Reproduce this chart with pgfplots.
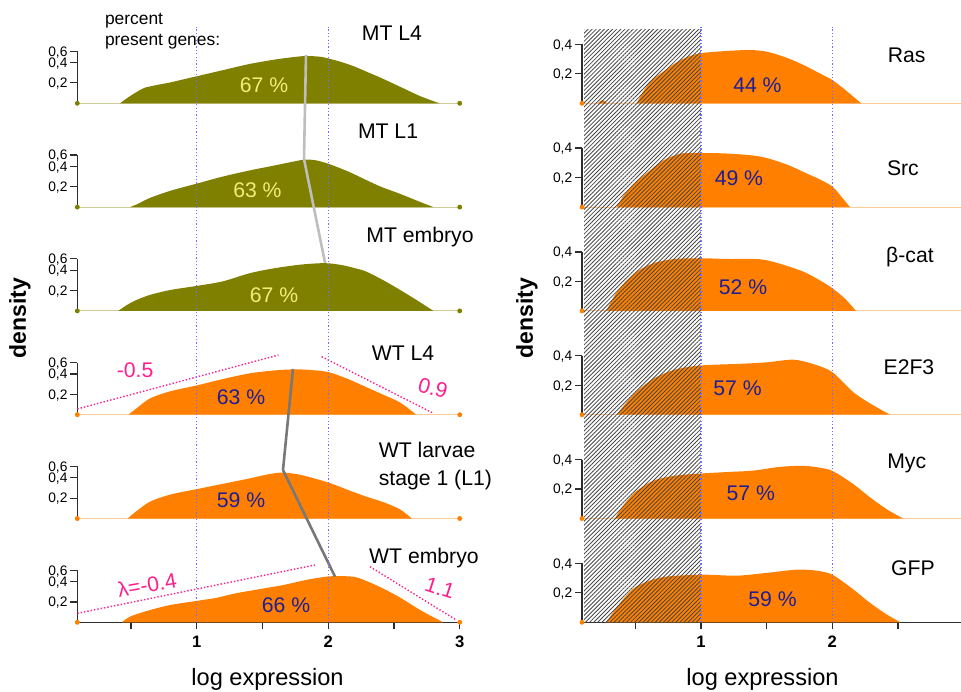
\documentclass[border=0pt]{standalone}
\usepackage{fontspec}
\setmainfont{Liberation Sans}
\usepackage{pgfplots}
\pgfplotsset{compat=1.18}
\usetikzlibrary{patterns.meta}

\definecolor{mtolive}{RGB}{127,127,0}
\definecolor{wtorange}{RGB}{255,128,0}
\definecolor{pctyellow}{RGB}{242,236,120}
\definecolor{pctblue}{RGB}{30,30,150}
\definecolor{slopepink}{RGB}{255,30,140}
\definecolor{refblue}{RGB}{110,110,255}
\definecolor{mtgray}{RGB}{190,190,190}
\definecolor{wtgray}{RGB}{120,120,120}
\definecolor{axisgray}{RGB}{45,45,45}

\pgfplotsset{
  panel/.style={
    clip=false, anchor=south west, ymin=0,
    axis x line*=bottom, axis y line*=left,
    axis line style={-, line width=0.6pt, draw=axisgray},
    tick align=outside, major tick length=3.5pt,
    tick style={draw=axisgray, line width=0.6pt},
    yticklabel style={font=\fontsize{6.9}{7}\selectfont, inner sep=0pt,
      text depth=0pt, xshift=-1.2pt},
    xticklabel style={font=\fontsize{8.3}{9}\selectfont\bfseries},
    xtick=\empty,
  },
  lpanel/.style={panel, x=65.75pt, y=51pt, xmin=0.092, xmax=3, ymax=0.51,
    ytick={0.2,0.4,0.51},
    yticklabels={{\mbox{0,2}},{\mbox{0,4}},{\mbox{0,6}}}},
  rpanel/.style={panel, x=65.65pt, y=73.75pt, xmin=0.094, xmax=2.98, ymax=0.4,
    ytick={0.2,0.4},
    yticklabels={{\mbox{0,2}},{\mbox{0,4}}}},
  baseline/.style={x axis line style={draw=#1, line width=0.5pt}},
  lbottom/.style={xtick={0.5,1,1.5,2,2.5,3}, xticklabels={,1,,2,,3}},
  rbottom/.style={xtick={0.5,1,1.5,2,2.5}, xticklabels={,1,,2,}},
  dens/.style={fill=#1, draw=none, smooth},
  ends/.style={only marks, mark=*, mark size=1pt, color=#1},
}
\newcommand{\ttl}{\fontsize{10.6}{12}\selectfont}
\newcommand{\pct}{\fontsize{10.6}{12}\selectfont}

\begin{document}
\begin{tikzpicture}
% ---------------- left column: MT and WT stages ----------------
\begin{axis}[lpanel, baseline=mtolive!40, at={(38.65pt,293.85pt)}]
  \addplot[dens=mtolive] coordinates {(0.417,0) (0.47,0.05) (0.53,0.10) (0.6,0.15) (0.68,0.175) (0.8,0.205) (0.9,0.235) (1.0,0.265) (1.2,0.325) (1.4,0.385) (1.6,0.43) (1.75,0.455) (1.84,0.464) (1.95,0.455) (2.0,0.44) (2.1,0.405) (2.2,0.36) (2.3,0.305) (2.4,0.25) (2.55,0.16) (2.7,0.07) (2.845,0)} \closedcycle;
  \addplot[ends=mtolive] coordinates {(0.092,0) (3,0)};
  \node[font=\pct, text=pctyellow] at (axis cs:1.512,0.179) {67 \%};
  \node[font=\ttl] at (axis cs:2.485,0.689) {MT L4};
  \node[font=\fontsize{8.7}{10.8}\selectfont, align=left, anchor=west] at (axis cs:0.249,0.709) {percent\\present genes:};
\end{axis}

\begin{axis}[lpanel, baseline=mtolive!40, at={(38.65pt,241.95pt)}]
  \addplot[dens=mtolive] coordinates {(0.493,0) (0.55,0.03) (0.645,0.09) (0.8,0.16) (1.0,0.23) (1.2,0.3) (1.405,0.36) (1.6,0.41) (1.75,0.45) (1.82,0.465) (1.9,0.46) (2.0,0.425) (2.15,0.35) (2.29,0.265) (2.4,0.2) (2.546,0.13) (2.7,0.05) (2.8,0)} \closedcycle;
  \addplot[ends=mtolive] coordinates {(0.092,0) (3,0)};
  \addplot[mtgray, line width=1.3pt] coordinates {(1.831,1.491) (1.816,0.472)};
  \node[font=\pct, text=pctyellow] at (axis cs:1.462,0.168) {63 \%};
  \node[font=\ttl] at (axis cs:2.455,0.746) {MT L1};
\end{axis}

\begin{axis}[lpanel, baseline=mtolive!40, at={(38.65pt,190.05pt)}]
  \addplot[dens=mtolive] coordinates {(0.404,0) (0.46,0.05) (0.53,0.1) (0.645,0.157) (0.8,0.205) (1.0,0.245) (1.2,0.29) (1.405,0.37) (1.6,0.42) (1.8,0.455) (1.976,0.468) (2.1,0.45) (2.2,0.42) (2.29,0.385) (2.42,0.3) (2.546,0.206) (2.68,0.1) (2.8,0)} \closedcycle;
  \addplot[ends=mtolive] coordinates {(0.092,0) (3,0)};
  \addplot[mtgray, line width=1.3pt] coordinates {(1.816,1.489) (1.976,0.47)};
  \node[font=\pct, text=pctyellow] at (axis cs:1.588,0.156) {67 \%};
  \node[font=\ttl] at (axis cs:2.698,0.727) {MT embryo};
\end{axis}

\begin{axis}[lpanel, baseline=wtorange!40, at={(38.65pt,138.15pt)}]
  \addplot[dens=wtorange] coordinates {(0.48,0) (0.54,0.06) (0.645,0.16) (0.8,0.23) (1.0,0.287) (1.2,0.35) (1.405,0.406) (1.6,0.435) (1.735,0.444) (1.85,0.44) (2.0,0.418) (2.15,0.35) (2.29,0.27) (2.42,0.195) (2.546,0.12) (2.67,0)} \closedcycle;
  \addplot[ends=wtorange] coordinates {(0.092,0) (3,0)};
  \addplot[slopepink, densely dotted, line width=0.7pt] coordinates {(0.092,0.056) (1.622,0.585)};
  \addplot[slopepink, densely dotted, line width=0.7pt] coordinates {(1.95,0.569) (2.80,0.014)};
  \node[font=\pct, text=slopepink] at (axis cs:0.531,0.438) {-0.5};
  \node[font=\pct, text=slopepink, rotate=-15] at (axis cs:2.797,0.262) {0.9};
  \node[font=\pct, text=pctblue] at (axis cs:1.337,0.176) {63 \%};
  \node[font=\ttl] at (axis cs:2.569,0.605) {WT L4};
\end{axis}

\begin{axis}[lpanel, baseline=wtorange!40, at={(38.65pt,86.25pt)}]
  \addplot[dens=wtorange] coordinates {(0.475,0) (0.54,0.07) (0.645,0.165) (0.8,0.235) (1.0,0.288) (1.2,0.34) (1.405,0.394) (1.55,0.435) (1.66,0.45) (1.8,0.425) (2.0,0.353) (2.15,0.28) (2.29,0.214) (2.42,0.16) (2.546,0.09) (2.635,0)} \closedcycle;
  \addplot[ends=wtorange] coordinates {(0.092,0) (3,0)};
  \addplot[wtgray, line width=1.3pt] coordinates {(1.732,1.466) (1.656,0.475)};
  \node[font=\pct, text=pctblue] at (axis cs:1.337,0.181) {59 \%};
  \node[font=\fontsize{10.6}{14}\selectfont, align=left, anchor=west] at (axis cs:2.331,0.515) {WT larvae\\stage 1 (L1)};
\end{axis}

\begin{axis}[lpanel, lbottom, at={(38.65pt,34.35pt)}]
  \addplot[dens=wtorange] coordinates {(0.43,0) (0.5,0.06) (0.645,0.12) (0.8,0.17) (1.0,0.21) (1.15,0.24) (1.3,0.285) (1.5,0.33) (1.66,0.366) (1.85,0.42) (2.0,0.45) (2.065,0.454) (2.2,0.445) (2.3,0.4) (2.42,0.33) (2.55,0.24) (2.7,0.12) (2.8,0.05) (2.875,0)} \closedcycle;
  \addplot[ends=wtorange] coordinates {(0.092,0) (3,0)};
  \addplot[wtgray, line width=1.3pt] coordinates {(1.656,1.493) (2.052,0.447)};
  \addplot[slopepink, densely dotted, line width=0.7pt] coordinates {(0.092,0.088) (1.90,0.562)};
  \addplot[slopepink, densely dotted, line width=0.7pt] coordinates {(2.318,0.545) (2.977,0.02)};
  \node[font=\pct, text=slopepink, rotate=10] at (axis cs:0.622,0.366) {λ=-0.4};
  \node[font=\pct, text=slopepink, rotate=-18] at (axis cs:2.85,0.336) {1.1};
  \node[font=\pct, text=pctblue] at (axis cs:1.679,0.17) {66 \%};
  \node[font=\ttl] at (axis cs:2.728,0.63) {WT embryo};
  % reference lines at log expression 1 and 2
  \draw[refblue, line width=0.6pt, dash pattern=on 0.6pt off 1.1pt] (axis cs:1,0) -- (axis cs:1,5.836);
  \draw[refblue, line width=0.6pt, dash pattern=on 0.6pt off 1.1pt] (axis cs:2,0) -- (axis cs:2,5.836);
\end{axis}

% ---------------- right column: oncogene lines ----------------
\begin{axis}[rpanel, baseline=wtorange!40, at={(291pt,293.85pt)}]
  \addplot[dens=wtorange] coordinates {(0.51,0) (0.56,0.08) (0.62,0.15) (0.69,0.2) (0.8,0.27) (0.9,0.315) (1.0,0.34) (1.2,0.355) (1.373,0.361) (1.5,0.35) (1.65,0.31) (1.78,0.26) (1.9,0.205) (2.0,0.158) (2.1,0.09) (2.22,0)} \closedcycle;
  \addplot[dens=wtorange] coordinates {(0.215,0) (0.25,0.022) (0.285,0)} \closedcycle;
  \addplot[ends=wtorange] coordinates {(0.094,0)};
  \node[font=\pct, text=pctblue] at (axis cs:1.43,0.124) {44 \%};
  \node[font=\ttl] at (axis cs:2.567,0.327) {Ras};
\end{axis}

\begin{axis}[rpanel, baseline=wtorange!40, at={(291pt,241.95pt)}]
  \addplot[dens=wtorange] coordinates {(0.357,0) (0.42,0.09) (0.5,0.17) (0.586,0.23) (0.7,0.31) (0.84,0.362) (1.0,0.366) (1.2,0.363) (1.45,0.343) (1.65,0.29) (1.8,0.23) (1.9,0.19) (2.0,0.14) (2.07,0.07) (2.135,0)} \closedcycle;
  \addplot[ends=wtorange] coordinates {(0.094,0)};
  \node[font=\pct, text=pctblue] at (axis cs:1.289,0.197) {49 \%};
  \node[font=\ttl] at (axis cs:2.538,0.265) {Src};
\end{axis}

\begin{axis}[rpanel, baseline=wtorange!40, at={(291pt,190.05pt)}]
  \addplot[dens=wtorange] coordinates {(0.28,0) (0.32,0.07) (0.38,0.154) (0.5,0.26) (0.637,0.323) (0.8,0.352) (1.0,0.357) (1.2,0.352) (1.45,0.35) (1.6,0.32) (1.78,0.266) (1.9,0.21) (2.0,0.154) (2.1,0.08) (2.18,0)} \closedcycle;
  \addplot[ends=wtorange] coordinates {(0.094,0)};
  \node[font=\pct, text=pctblue] at (axis cs:1.32,0.163) {52 \%};
  \node[font=\ttl] at (axis cs:2.592,0.367) {β-cat};
\end{axis}

\begin{axis}[rpanel, baseline=wtorange!40, at={(291pt,138.15pt)}]
  \addplot[dens=wtorange] coordinates {(0.357,0) (0.42,0.07) (0.5,0.15) (0.637,0.244) (0.8,0.305) (1.0,0.334) (1.3,0.345) (1.5,0.355) (1.7,0.373) (1.85,0.345) (2.0,0.289) (2.16,0.153) (2.3,0.07) (2.44,0)} \closedcycle;
  \addplot[ends=wtorange] coordinates {(0.094,0)};
  \node[font=\pct, text=pctblue] at (axis cs:1.278,0.181) {57 \%};
  \node[font=\ttl] at (axis cs:2.584,0.325) {E2F3};
\end{axis}

\begin{axis}[rpanel, baseline=wtorange!40, at={(291pt,86.25pt)}]
  \addplot[dens=wtorange] coordinates {(0.345,0) (0.4,0.08) (0.5,0.18) (0.637,0.256) (0.8,0.29) (1.0,0.305) (1.2,0.315) (1.4,0.325) (1.6,0.35) (1.78,0.357) (1.9,0.345) (2.0,0.323) (2.15,0.24) (2.29,0.142) (2.42,0.06) (2.54,0)} \closedcycle;
  \addplot[ends=wtorange] coordinates {(0.094,0)};
  \node[font=\pct, text=pctblue] at (axis cs:1.379,0.173) {57 \%};
  \node[font=\ttl] at (axis cs:2.567,0.376) {Myc};
\end{axis}

\begin{axis}[rpanel, rbottom, at={(291pt,34.35pt)}]
  \addplot[dens=wtorange] coordinates {(0.28,0) (0.34,0.08) (0.42,0.17) (0.51,0.244) (0.7,0.305) (1.0,0.323) (1.27,0.316) (1.5,0.335) (1.73,0.357) (1.88,0.35) (2.0,0.323) (2.15,0.23) (2.29,0.13) (2.42,0.05) (2.52,0)} \closedcycle;
  \addplot[ends=wtorange] coordinates {(0.094,0)};
  \node[font=\pct, text=pctblue] at (axis cs:1.545,0.158) {59 \%};
  \node[font=\ttl] at (axis cs:2.615,0.368) {GFP};
  % region below log expression 1, hatched across all panels
  \fill[pattern={Lines[angle=45, distance=1.45pt, line width=0.42pt]}, pattern color=black!72]
    (axis cs:0.11,0) rectangle (axis cs:1,4.016);
  \draw[refblue, line width=0.6pt, dash pattern=on 0.6pt off 1.1pt] (axis cs:1,0) -- (axis cs:1,4.036);
  \draw[refblue, line width=0.6pt, dash pattern=on 0.6pt off 1.1pt] (axis cs:2,0) -- (axis cs:2,4.036);
\end{axis}

% shared axis titles
\node[font=\fontsize{11.5}{12}\selectfont\bfseries, rotate=90] at (10pt,186.5pt) {density};
\node[font=\fontsize{11.5}{12}\selectfont\bfseries, rotate=90] at (263.5pt,186.5pt) {density};
\node[font=\fontsize{11.8}{13}\selectfont] at (133.75pt,6pt) {log expression};
\node[font=\fontsize{11.8}{13}\selectfont] at (381.25pt,6pt) {log expression};

\pgfresetboundingbox
\path (0,0) rectangle (480.5pt,345.5pt);
\end{tikzpicture}
\end{document}
